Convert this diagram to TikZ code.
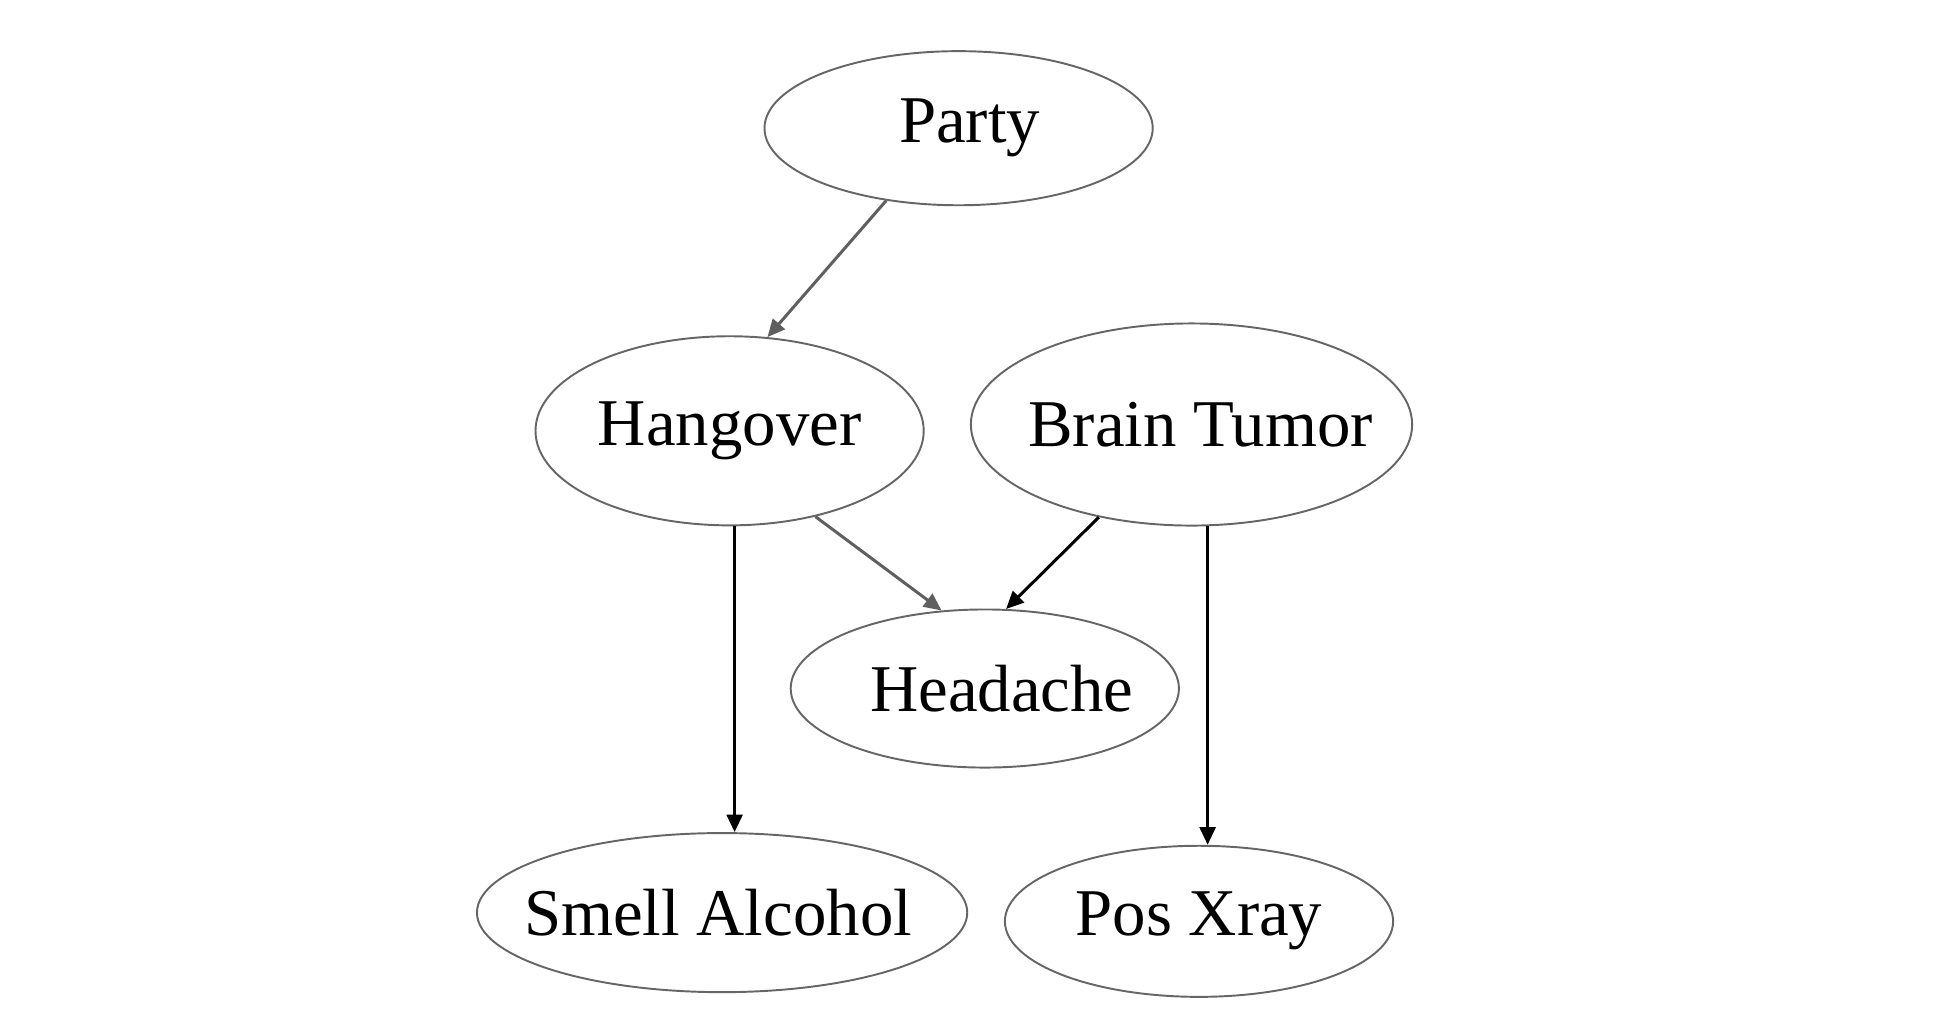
\documentclass[tikz,border=0pt]{standalone}
\usepackage{fontspec}
\setmainfont{Liberation Serif}
\usetikzlibrary{shapes.geometric,arrows.meta}
\definecolor{myline}{RGB}{102,102,102}
\definecolor{mygray}{RGB}{95,95,95}

% text of a variable, shifted sideways inside its ellipse
\newcommand\varlabel[2]{\makebox[0pt]{\hspace{#1}#2}}

\tikzset{
  var/.style={ellipse,draw=myline,line width=0.55pt,inner sep=0pt,
    font=\fontsize{19}{23}\selectfont},
  grayedge/.style={draw=mygray,line width=0.85pt,-{Triangle[length=5pt,width=4.5pt]}},
  blackedge/.style={draw=black,line width=0.85pt,-{Triangle[length=5pt,width=4.5pt]}}
}

\begin{document}
\begin{tikzpicture}[x=0.01cm,y=-0.01cm]
\useasboundingbox (0,0) rectangle (1952,1030);

% variables
\node[var,minimum width=3.88cm,minimum height=1.54cm] (party) at (958.6,128.2) {\varlabel{0.22cm}{Party}};
\node[var,minimum width=3.88cm,minimum height=1.89cm] (hangover) at (729.6,430.8) {\varlabel{0cm}{Hangover}};
\node[var,minimum width=4.41cm,minimum height=2.02cm] (tumor) at (1191.5,424.5) {\varlabel{0.18cm}{Brain Tumor}};
\node[var,minimum width=3.88cm,minimum height=1.58cm] (headache) at (984.8,688.5) {\varlabel{0.34cm}{Headache}};
\node[var,minimum width=4.90cm,minimum height=1.59cm] (smell) at (722.1,912.6) {\varlabel{-0.08cm}{Smell Alcohol}};
\node[var,minimum width=3.88cm,minimum height=1.51cm] (xray) at (1199,921.3) {\varlabel{0cm}{Pos Xray}};

% edges
\draw[grayedge] (party.225) -- (hangover.68);
\draw[grayedge] (hangover.-45) -- (headache.119);
\draw[blackedge] (tumor.225) -- (headache.75);
\draw[blackedge] (hangover.-87) -- (hangover.-87 |- smell.north);
\draw[blackedge] (tumor.-81) -- (tumor.-81 |- xray.north);

\end{tikzpicture}
\end{document}
